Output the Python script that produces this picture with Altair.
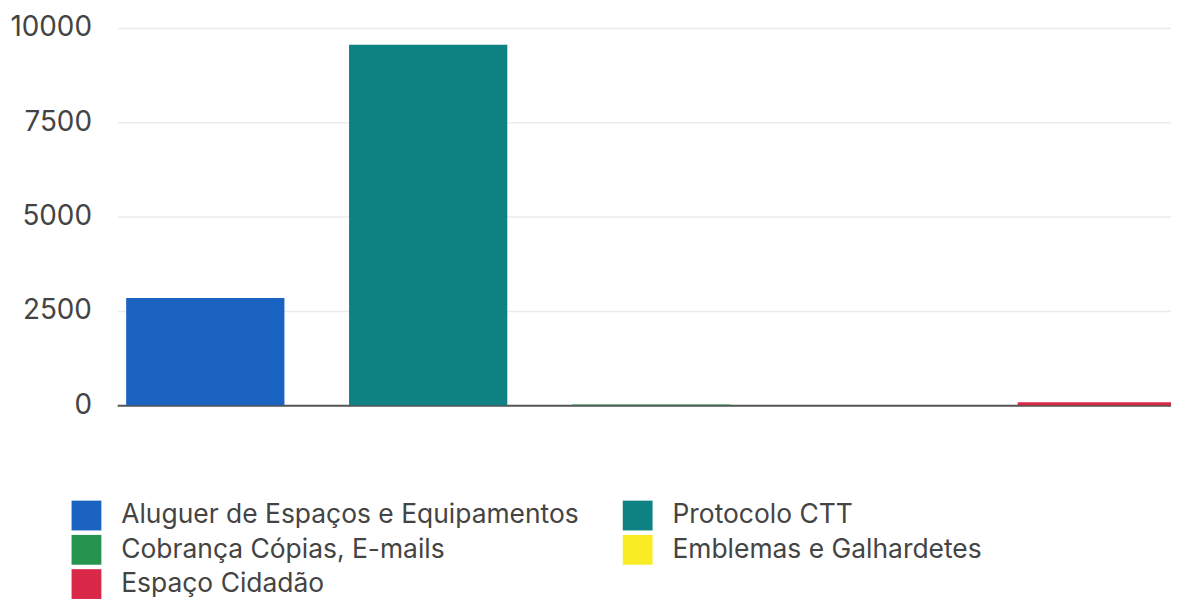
import altair as alt
import pandas as pd

categories = [
    "Aluguer de Espaços e Equipamentos",
    "Protocolo CTT",
    "Cobrança Cópias, E-mails",
    "Emblemas e Galhardetes",
    "Espaço Cidadão",
]
values = [2845, 9555, 22, 4, 80]
colors = ["#1a63c0", "#0e8282", "#24944f", "#f9eb24", "#d92848"]
y_ticks = [0, 2500, 5000, 7500, 10000]
# legend is filled column by column: this order reads row by row as in the reference
legend_order = [
    "Aluguer de Espaços e Equipamentos",
    "Cobrança Cópias, E-mails",
    "Espaço Cidadão",
    "Protocolo CTT",
    "Emblemas e Galhardetes",
]
legend_colors = [colors[categories.index(c)] for c in legend_order]

df = pd.DataFrame({"categoria": categories, "valor": values})

FONT = "Inter"

chart = (
    alt.Chart(df)
    .mark_bar()
    .encode(
        x=alt.X(
            "categoria:N",
            sort=categories,
            scale=alt.Scale(range=[0, 1075], paddingInner=0.29, paddingOuter=0.04),
            axis=alt.Axis(
                labels=False, ticks=False, title=None, domain=True,
                domainColor="#555555", domainWidth=2, grid=False,
            ),
        ),
        y=alt.Y(
            "valor:Q",
            scale=alt.Scale(domain=[0, 10000], nice=False),
            axis=alt.Axis(
                values=y_ticks, title=None, domain=False, ticks=False,
                format="d",
                grid=True, gridColor="#ebebeb", gridWidth=1.5,
                labelFontSize=28, labelColor="#444444", labelFont=FONT,
                labelPadding=26,
            ),
        ),
        color=alt.Color(
            "categoria:N",
            scale=alt.Scale(domain=legend_order, range=legend_colors),
            legend=alt.Legend(
                title=None, orient="none", legendX=-46, legendY=476,
                columns=2, symbolType="square", symbolSize=900,
                symbolStrokeWidth=0, symbolOpacity=1,
                labelFontSize=26.6, labelFont=FONT, labelColor="#444444",
                labelOffset=20, columnPadding=44, rowPadding=4.5,
                labelLimit=600,
            ),
        ),
    )
    .properties(
        width=1061, height=380,
        padding={"left": 110, "top": 18, "right": 0, "bottom": 193},
        autosize=alt.AutoSizeParams(type="none"),
    )
    .configure_view(stroke=None)
)

chart.save("out.html", embed_options={"renderer": "svg", "actions": False})
